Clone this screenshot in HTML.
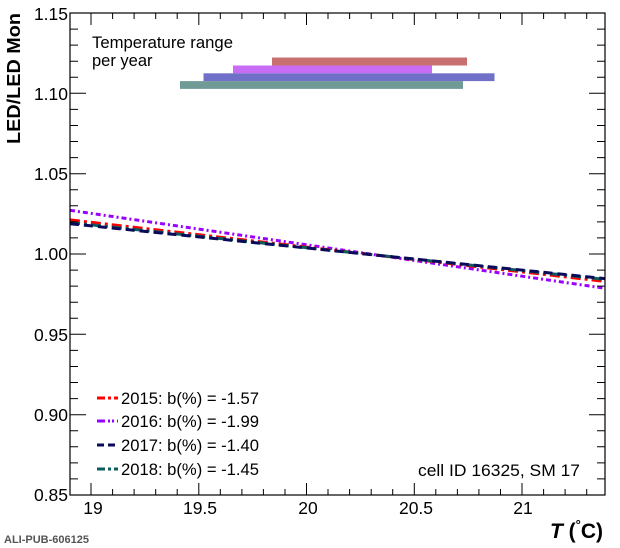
<!DOCTYPE html>
<html><head><style>body{margin:0;background:#fff}svg{display:block}text{font-family:"Liberation Sans",sans-serif}</style></head><body>
<svg width="620" height="548" viewBox="0 0 620 548" xmlns="http://www.w3.org/2000/svg">
<g id="bars">
<rect x="272" y="57.5" width="195" height="8" fill="#c87070"/>
<rect x="233" y="65.5" width="199" height="7.8" fill="#c86cf5"/>
<rect x="203.5" y="73.3" width="291" height="7.8" fill="#7070c8"/>
<rect x="180" y="81.1" width="283" height="7.8" fill="#6f9a96"/>
</g>
<text x="92" y="48" font-size="16.5" textLength="141" lengthAdjust="spacingAndGlyphs">Temperature range</text>
<text x="92" y="66" font-size="16.5">per year</text>
<g fill="none" stroke-width="3">
<line x1="70" y1="210.3" x2="605" y2="288.3" stroke="#9900ff" stroke-dasharray="5,3,2,3"/>
<line x1="70" y1="219.9" x2="605" y2="281.4" stroke="#ff0000" stroke-dasharray="10,4,3,4"/>
<line x1="70" y1="222.6" x2="605" y2="279.4" stroke="#0e5c5c" stroke-dasharray="10,4,3,4"/>
<line x1="70" y1="223.7" x2="605" y2="278.6" stroke="#0a0a5a" stroke-dasharray="9,5"/>
</g>
<g stroke-width="3" fill="none">
<line x1="97" y1="398" x2="118" y2="398" stroke="#ff0000" stroke-dasharray="8,3,3,3"/>
<line x1="97" y1="421" x2="118" y2="421" stroke="#9900ff" stroke-dasharray="8,3,2,2,2,3"/>
<line x1="97" y1="445" x2="118" y2="445" stroke="#0a0a5a" stroke-dasharray="7,4"/>
<line x1="97" y1="469" x2="118" y2="469" stroke="#0e5c5c" stroke-dasharray="8,3,3,3"/>
</g>
<g font-size="16.5">
<text x="121" y="404" textLength="138" lengthAdjust="spacingAndGlyphs">2015: b(%) = -1.57</text>
<text x="121" y="427" textLength="138" lengthAdjust="spacingAndGlyphs">2016: b(%) = -1.99</text>
<text x="121" y="451" textLength="138" lengthAdjust="spacingAndGlyphs">2017: b(%) = -1.40</text>
<text x="121" y="475" textLength="138" lengthAdjust="spacingAndGlyphs">2018: b(%) = -1.45</text>
<text x="418" y="476" textLength="162" lengthAdjust="spacingAndGlyphs">cell ID 16325, SM 17</text>
</g>
<rect x="70" y="13" width="535" height="482" fill="none" stroke="#000" stroke-width="1.2"/>
<g stroke="#000" stroke-width="1">
<path d="M91,495v-12M91,13v12M198.8,495v-12M198.8,13v12M306.5,495v-12M306.5,13v12M414.3,495v-12M414.3,13v12M522,495v-12M522,13v12"/>
<path d="M112.6,495v-6M112.6,13v6M134.1,495v-6M134.1,13v6M155.7,495v-6M155.7,13v6M177.2,495v-6M177.2,13v6M220.3,495v-6M220.3,13v6M241.9,495v-6M241.9,13v6M263.4,495v-6M263.4,13v6M285,495v-6M285,13v6M328,495v-6M328,13v6M349.6,495v-6M349.6,13v6M371.2,495v-6M371.2,13v6M392.7,495v-6M392.7,13v6M435.8,495v-6M435.8,13v6M457.4,495v-6M457.4,13v6M478.9,495v-6M478.9,13v6M500.5,495v-6M500.5,13v6M543.6,495v-6M543.6,13v6M565.1,495v-6M565.1,13v6M586.7,495v-6M586.7,13v6"/>
<path d="M70,13h16M605,13h-16M70,93.3h16M605,93.3h-16M70,173.7h16M605,173.7h-16M70,254h16M605,254h-16M70,334.3h16M605,334.3h-16M70,414.7h16M605,414.7h-16"/>
<path d="M70,29.1h8M605,29.1h-8M70,45.1h8M605,45.1h-8M70,61.2h8M605,61.2h-8M70,77.3h8M605,77.3h-8M70,109.4h8M605,109.4h-8M70,125.5h8M605,125.5h-8M70,141.5h8M605,141.5h-8M70,157.6h8M605,157.6h-8M70,189.8h8M605,189.8h-8M70,205.8h8M605,205.8h-8M70,221.9h8M605,221.9h-8M70,237.9h8M605,237.9h-8M70,270.1h8M605,270.1h-8M70,286.1h8M605,286.1h-8M70,302.2h8M605,302.2h-8M70,318.3h8M605,318.3h-8M70,350.4h8M605,350.4h-8M70,366.5h8M605,366.5h-8M70,382.5h8M605,382.5h-8M70,398.6h8M605,398.6h-8M70,430.7h8M605,430.7h-8M70,446.8h8M605,446.8h-8M70,462.9h8M605,462.9h-8M70,478.9h8M605,478.9h-8"/>
</g>
<g font-size="17.5" text-anchor="end">
<text x="68" y="20">1.15</text>
<text x="68" y="100">1.10</text>
<text x="68" y="180">1.05</text>
<text x="68" y="260">1.00</text>
<text x="68" y="341">0.95</text>
<text x="68" y="421">0.90</text>
<text x="68" y="501">0.85</text>
</g>
<g font-size="17.5" text-anchor="middle">
<text x="93" y="514">19</text>
<text x="200" y="514">19.5</text>
<text x="308" y="514">20</text>
<text x="416" y="514">20.5</text>
<text x="523" y="514">21</text>
</g>
<text transform="translate(20,144) rotate(-90)" font-size="18" font-weight="bold" textLength="131" lengthAdjust="spacingAndGlyphs">LED/LED Mon</text>
<text x="603" y="538" font-size="21" font-weight="bold" text-anchor="end"><tspan font-style="italic">T</tspan> (<tspan font-size="13" dy="-9">°</tspan><tspan dy="9">C)</tspan></text>
<text x="4" y="543" font-size="11" fill="#555" font-family="Liberation Mono,monospace" font-weight="bold">ALI-PUB-606125</text>
</svg>
</body></html>
